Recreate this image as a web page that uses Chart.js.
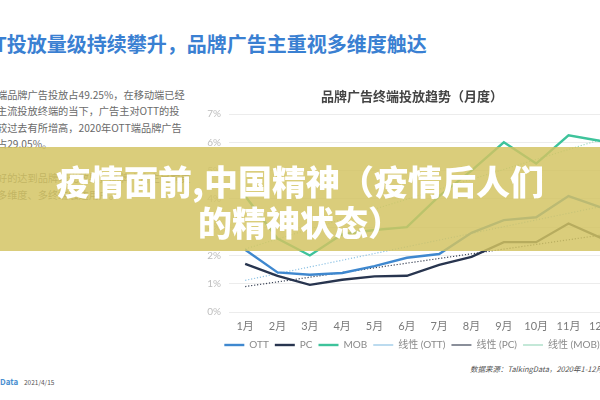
<!DOCTYPE html>
<html>
<head>
<meta charset="utf-8">
<script src="https://cdn.jsdelivr.net/npm/chart.js@4/dist/chart.umd.min.js"></script>
<style>
  html, body { margin: 0; padding: 0; }
  body {
    width: 600px; height: 400px; overflow: hidden; position: relative;
    background: #fff; font-family: "Noto Sans CJK SC", "Noto Sans", sans-serif;
  }
  .abs { position: absolute; white-space: nowrap; }
  #headline { left: -33px; top: 29px; font-size: 20px; font-weight: bold; color: #3a80d2; }
  #para { left: -3px; top: 87px; font-size: 10.2px; line-height: 16.4px; color: #6a6a6a; }
  #para2 { left: -3px; top: 169px; font-size: 10.2px; line-height: 17px; color: #6a6a6a; }
  #chartWrap { left: 196px; top: 80px; width: 440px; height: 280px; }
  #source { left: 470px; top: 363px; font-size: 7.5px; font-style: italic; color: #555; }
  #logo { left: 0; top: 376px; font-size: 8px; font-weight: bold; color: #4a8fd0; }
  #date { left: 24px; top: 377px; font-size: 6.5px; color: #555; }
  #banner {
    left: 0; top: 147px; width: 600px; height: 104px;
    background: rgba(211, 196, 98, 0.84);
  }
  #bannerText {
    left: 0; top: 160px; width: 600px; text-align: center; white-space: normal;
    font-size: 34px; line-height: 41px; font-weight: 900; color: #fff;
  }
</style>
</head>
<body>
<div id="headline" class="abs">OTT投放量级持续攀升，品牌广告主重视多维度触达</div>
<div id="para" class="abs">端品牌广告投放占49.25%，在移动端已经<br>主流投放终端的当下，广告主对OTT的投<br>较过去有所增高，2020年OTT端品牌广告<br>占29.05%。</div>
<div id="para2" class="abs">好的达到品牌曝光效果，品牌广告主目前更<br>多维度、多终端触达用户。</div>
<div id="chartWrap" class="abs"><canvas id="chart" width="440" height="280"></canvas></div>
<div id="source" class="abs">数据来源：TalkingData，2020年1-12月，全网</div>
<div id="logo" class="abs">Data</div>
<div id="date" class="abs">2021/4/15</div>
<div id="banner" class="abs"></div>
<div id="bannerText" class="abs">疫情面前,中国精神（疫情后人们<br>的精神状态）</div>

<script>
const months = ['1月', '2月', '3月', '4月', '5月', '6月', '7月', '8月', '9月', '10月', '11月', '12月'];
const ott = [2.2, 1.4, 1.32, 1.38, 1.62, 1.92, 2.05, 2.8, 3.25, 3.35, 4.1, 3.7];
const pc = [1.7, 1.28, 0.96, 1.14, 1.26, 1.28, 1.67, 1.95, 2.47, 2.47, 3.13, 2.62];
const mob = [4.1, 2.6, 2.0, 2.75, 2.9, 3.0, 4.1, 5.0, 6.0, 5.25, 6.25, 6.05];
// trend line ends (1月, 12月)
const ottTrend = [1.12, 3.73];
const pcTrend = [0.9, 2.72];
const mobTrend = [2.23, 6.1];
const yTicks = [0, 1, 2, 3, 4, 5, 6, 7];

const font = 'Lato, "Noto Sans CJK SC"';
const ends = (pair) => [{ x: months[0], y: pair[0] }, { x: months[months.length - 1], y: pair[1] }];

function solid(label, data, color) {
  return { label, data, borderColor: color, backgroundColor: color, borderWidth: 2.4, pointRadius: 0, tension: 0, fill: false };
}
function dotted(label, data, color) {
  return { label, data: ends(data), borderColor: color, backgroundColor: color, borderWidth: 1.2, borderDash: [1.2, 1.8], pointRadius: 0, fill: false };
}

new Chart(document.getElementById('chart'), {
  type: 'line',
  data: {
    labels: months,
    datasets: [
      solid('OTT', ott, '#3f88cf'),
      solid('PC', pc, '#28354f'),
      solid('MOB', mob, '#3ec39b'),
      dotted('线性 (OTT)', ottTrend, '#8fc3e4'),
      dotted('线性 (PC)', pcTrend, '#3c4558'),
      dotted('线性 (MOB)', mobTrend, '#9dd9bf'),
    ],
  },
  options: {
    responsive: false,
    animation: false,
    layout: { padding: { left: 11, right: 19, top: 0, bottom: 0 } },
    scales: {
      x: {
        offset: true,
        grid: { display: false },
        border: { display: false },
        afterFit: (scale) => { scale.height = 22; },
        ticks: { color: '#7a7a7a', padding: 0, font: { family: font, size: 11 } },
      },
      y: {
        min: 0,
        max: 7,
        afterBuildTicks: (scale) => { scale.ticks = yTicks.map((v) => ({ value: v })); },
        afterFit: (scale) => { scale.width = 22; },
        grid: { color: '#ececec', drawTicks: false },
        border: { display: false },
        ticks: { color: '#bdbdbd', padding: 8, font: { family: font, size: 10 }, callback: (v) => v + '%' },
      },
    },
    plugins: {
      title: {
        display: true,
        text: '品牌广告终端投放趋势（月度）',
        color: '#444',
        font: { family: '"Noto Sans CJK SC"', size: 13, weight: 'bold' },
        padding: { top: 8, bottom: 10.5 },
      },
      legend: {
        position: 'bottom',
        labels: {
          usePointStyle: true,
          pointStyle: 'line',
          pointStyleWidth: 20,
          padding: 6,
          color: '#8a8a8a',
          font: { family: font, size: 10 },
        },
      },
      tooltip: { enabled: false },
    },
  },
});
</script>
</body>
</html>
